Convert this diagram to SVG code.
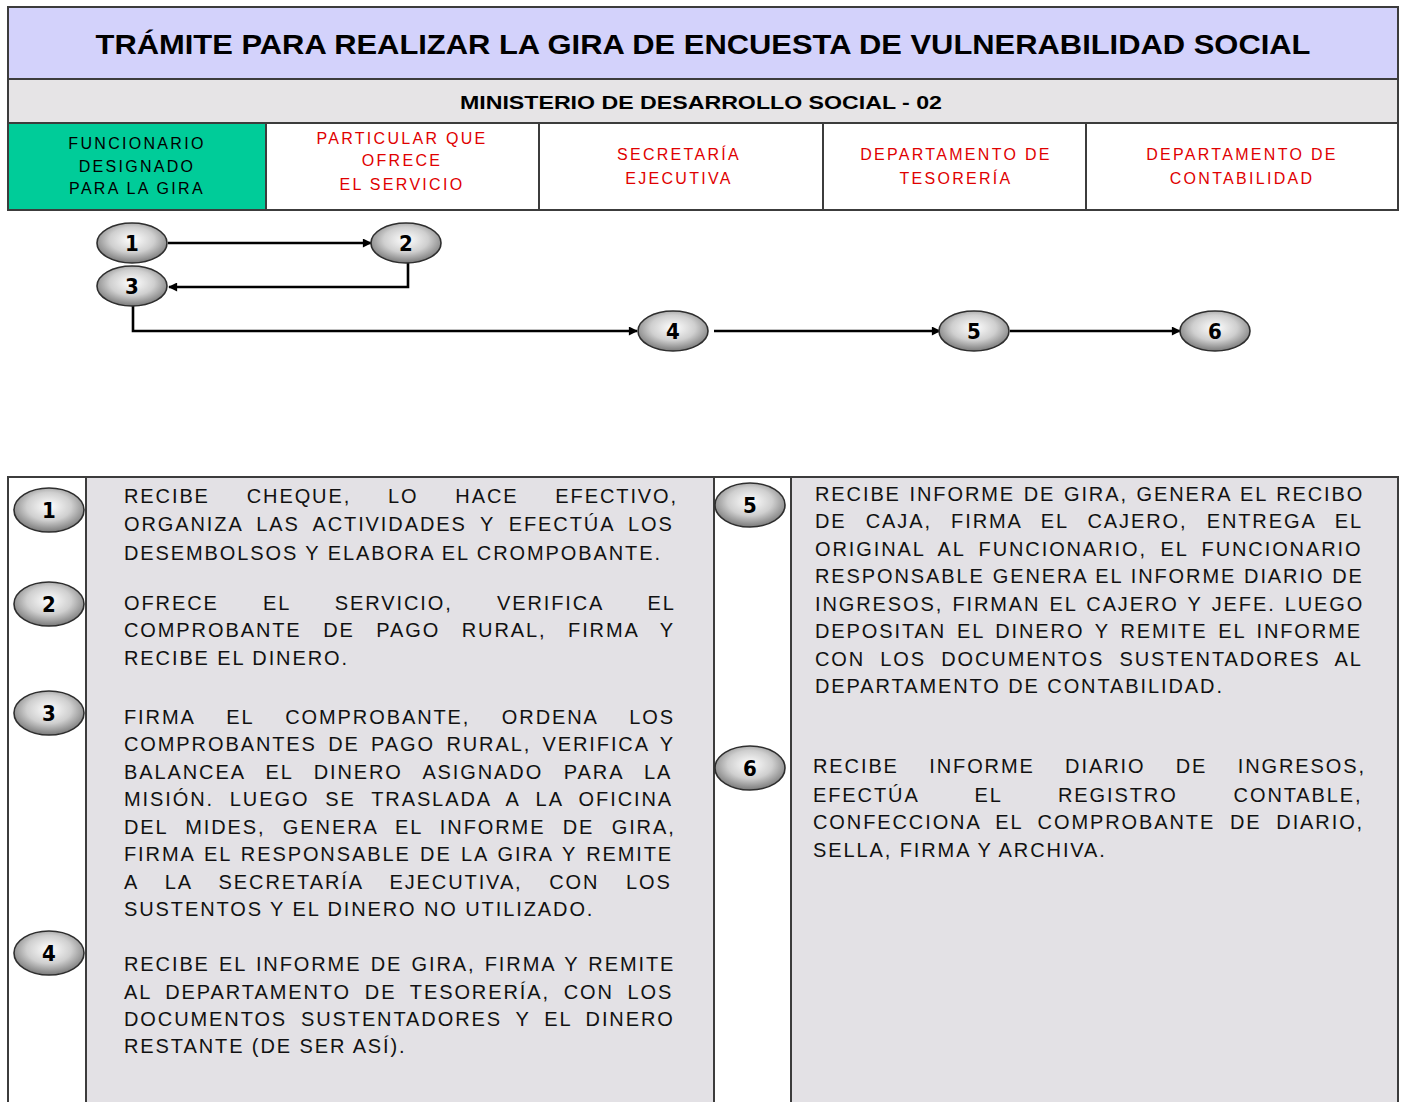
<svg xmlns="http://www.w3.org/2000/svg" width="1403" height="1102" viewBox="0 0 1403 1102">
<style>
.frame{stroke:#3c3c3c;stroke-width:2;}
.title{font-family:"Liberation Sans",Arial,sans-serif;font-weight:bold;fill:#000;}
.hd{font-family:"Liberation Sans",Arial,sans-serif;font-size:16px;letter-spacing:2.3px;text-anchor:middle;}
.red{fill:#e00000;}
.blk{fill:#000;}
.num{font-family:"DejaVu Sans Condensed","DejaVu Sans",sans-serif;font-weight:bold;font-size:22px;text-anchor:middle;fill:#000;}
.ell{fill:url(#eg);stroke:#2e2e2e;stroke-width:1.6;}
.conn{fill:none;stroke:#000;stroke-width:2.6;}
.body{font-family:"Liberation Sans",Arial,sans-serif;font-size:20px;letter-spacing:1.9px;fill:#111;}
</style>
<defs>
<radialGradient id="eg" cx="50%" cy="42%" r="58%">
<stop offset="0" stop-color="#ffffff"/>
<stop offset="0.55" stop-color="#cfcfcf"/>
<stop offset="1" stop-color="#7a7a7a"/>
</radialGradient>
<marker id="ah" viewBox="0 0 10 10" refX="9" refY="5" markerWidth="10" markerHeight="9" markerUnits="userSpaceOnUse" orient="auto">
<path d="M0,0 L10,5 L0,10 z" fill="#000"/>
</marker>
</defs>
<rect width="1403" height="1102" fill="#fff"/>

<g id="header">
<rect x="8" y="7" width="1390" height="72" fill="#d3d2fb" class="frame"/>
<text class="title" x="703" y="54" font-size="28" text-anchor="middle" textLength="1215" lengthAdjust="spacingAndGlyphs">TRÁMITE PARA REALIZAR LA GIRA DE ENCUESTA DE VULNERABILIDAD SOCIAL</text>
<rect x="8" y="79" width="1390" height="44" fill="#e6e4e6" class="frame"/>
<text class="title" x="701" y="109" font-size="19" text-anchor="middle" textLength="482" lengthAdjust="spacingAndGlyphs">MINISTERIO DE DESARROLLO SOCIAL - 02</text>
</g>

<g id="lane-headers">
<rect x="8" y="123" width="258" height="87" fill="#00cc99" class="frame"/>
<rect x="266" y="123" width="273" height="87" fill="#fff" class="frame"/>
<rect x="539" y="123" width="284" height="87" fill="#fff" class="frame"/>
<rect x="823" y="123" width="263" height="87" fill="#fff" class="frame"/>
<rect x="1086" y="123" width="312" height="87" fill="#fff" class="frame"/>
<text class="hd blk" x="137" y="149">FUNCIONARIO</text>
<text class="hd blk" x="137" y="172">DESIGNADO</text>
<text class="hd blk" x="137" y="194">PARA LA GIRA</text>
<text class="hd red" x="402" y="144">PARTICULAR QUE</text>
<text class="hd red" x="402" y="166">OFRECE</text>
<text class="hd red" x="402" y="190">EL SERVICIO</text>
<text class="hd red" x="679" y="160">SECRETARÍA</text>
<text class="hd red" x="679" y="184">EJECUTIVA</text>
<text class="hd red" x="956" y="160">DEPARTAMENTO DE</text>
<text class="hd red" x="956" y="184">TESORERÍA</text>
<text class="hd red" x="1242" y="160">DEPARTAMENTO DE</text>
<text class="hd red" x="1242" y="184">CONTABILIDAD</text>
</g>

<g id="connectors">
<path class="conn" d="M168,243 H371" marker-end="url(#ah)"/>
<path class="conn" d="M408,263 V287 H169" marker-end="url(#ah)"/>
<path class="conn" d="M133,306 V331 H637" marker-end="url(#ah)"/>
<path class="conn" d="M714,331 H940" marker-end="url(#ah)"/>
<path class="conn" d="M1010,331 H1180" marker-end="url(#ah)"/>
</g>

<g id="node-1"><ellipse class="ell" cx="132" cy="243" rx="35" ry="20"/><text class="num" x="132" y="251">1</text></g>
<g id="node-2"><ellipse class="ell" cx="406" cy="243" rx="35" ry="20"/><text class="num" x="406" y="251">2</text></g>
<g id="node-3"><ellipse class="ell" cx="132" cy="286" rx="35" ry="20"/><text class="num" x="132" y="294">3</text></g>
<g id="node-4"><ellipse class="ell" cx="673" cy="331" rx="35" ry="20"/><text class="num" x="673" y="339">4</text></g>
<g id="node-5"><ellipse class="ell" cx="974" cy="331" rx="35" ry="20"/><text class="num" x="974" y="339">5</text></g>
<g id="node-6"><ellipse class="ell" cx="1215" cy="331" rx="35" ry="20"/><text class="num" x="1215" y="339">6</text></g>

<g id="description-table">
<rect x="8" y="477" width="78" height="630" fill="#fff" class="frame"/>
<rect x="86" y="477" width="628" height="630" fill="#e3e1e5" class="frame"/>
<rect x="714" y="477" width="77" height="630" fill="#fff" class="frame"/>
<rect x="791" y="477" width="607" height="630" fill="#e3e1e5" class="frame"/>
</g>

<g id="step-1">
<ellipse class="ell" cx="49" cy="510" rx="35" ry="22"/><text class="num" x="49" y="518">1</text>
<text class="body" x="124" y="503" word-spacing="29.4">RECIBE CHEQUE, LO HACE EFECTIVO,</text>
<text class="body" x="124" y="531" word-spacing="6.3">ORGANIZA LAS ACTIVIDADES Y EFECTÚA LOS</text>
<text class="body" x="124" y="560">DESEMBOLSOS Y ELABORA EL CROMPOBANTE.</text>
</g>
<g id="step-2">
<ellipse class="ell" cx="49" cy="604" rx="35" ry="22"/><text class="num" x="49" y="612">2</text>
<text class="body" x="124" y="610" word-spacing="36.8">OFRECE EL SERVICIO, VERIFICA EL</text>
<text class="body" x="124" y="637" word-spacing="14.1">COMPROBANTE DE PAGO RURAL, FIRMA Y</text>
<text class="body" x="124" y="665">RECIBE EL DINERO.</text>
</g>
<g id="step-3">
<ellipse class="ell" cx="49" cy="713" rx="35" ry="22"/><text class="num" x="49" y="721">3</text>
<text class="body" x="124" y="724" word-spacing="24.1">FIRMA EL COMPROBANTE, ORDENA LOS</text>
<text class="body" x="124" y="751" word-spacing="3.9">COMPROBANTES DE PAGO RURAL, VERIFICA Y</text>
<text class="body" x="124" y="779" word-spacing="13.2">BALANCEA EL DINERO ASIGNADO PARA LA</text>
<text class="body" x="124" y="806" word-spacing="8.4">MISIÓN. LUEGO SE TRASLADA A LA OFICINA</text>
<text class="body" x="124" y="834" word-spacing="9.9">DEL MIDES, GENERA EL INFORME DE GIRA,</text>
<text class="body" x="124" y="861" word-spacing="1.9">FIRMA EL RESPONSABLE DE LA GIRA Y REMITE</text>
<text class="body" x="124" y="889" word-spacing="19.2">A LA SECRETARÍA EJECUTIVA, CON LOS</text>
<text class="body" x="124" y="916">SUSTENTOS Y EL DINERO NO UTILIZADO.</text>
</g>
<g id="step-4">
<ellipse class="ell" cx="49" cy="953" rx="35" ry="22"/><text class="num" x="49" y="961">4</text>
<text class="body" x="124" y="971" word-spacing="1.8">RECIBE EL INFORME DE GIRA, FIRMA Y REMITE</text>
<text class="body" x="124" y="999" word-spacing="6.3">AL DEPARTAMENTO DE TESORERÍA, CON LOS</text>
<text class="body" x="124" y="1026" word-spacing="6.4">DOCUMENTOS SUSTENTADORES Y EL DINERO</text>
<text class="body" x="124" y="1053">RESTANTE (DE SER ASÍ).</text>
</g>
<g id="step-5">
<ellipse class="ell" cx="750" cy="505" rx="35" ry="22"/><text class="num" x="750" y="513">5</text>
<text class="body" x="815" y="501" word-spacing="1.2">RECIBE INFORME DE GIRA, GENERA EL RECIBO</text>
<text class="body" x="815" y="528" word-spacing="11.7">DE CAJA, FIRMA EL CAJERO, ENTREGA EL</text>
<text class="body" x="815" y="556" word-spacing="6.1">ORIGINAL AL FUNCIONARIO, EL FUNCIONARIO</text>
<text class="body" x="815" y="583" word-spacing="0.4">RESPONSABLE GENERA EL INFORME DIARIO DE</text>
<text class="body" x="815" y="611" word-spacing="1.7">INGRESOS, FIRMAN EL CAJERO Y JEFE. LUEGO</text>
<text class="body" x="815" y="638" word-spacing="3.3">DEPOSITAN EL DINERO Y REMITE EL INFORME</text>
<text class="body" x="815" y="666" word-spacing="7.7">CON LOS DOCUMENTOS SUSTENTADORES AL</text>
<text class="body" x="815" y="693">DEPARTAMENTO DE CONTABILIDAD.</text>
</g>
<g id="step-6">
<ellipse class="ell" cx="750" cy="768" rx="35" ry="22"/><text class="num" x="750" y="776">6</text>
<text class="body" x="813" y="773" word-spacing="22.9">RECIBE INFORME DIARIO DE INGRESOS,</text>
<text class="body" x="813" y="802" word-spacing="48.5">EFECTÚA EL REGISTRO CONTABLE,</text>
<text class="body" x="813" y="829" word-spacing="7.3">CONFECCIONA EL COMPROBANTE DE DIARIO,</text>
<text class="body" x="813" y="857">SELLA, FIRMA Y ARCHIVA.</text>
</g>
</svg>
